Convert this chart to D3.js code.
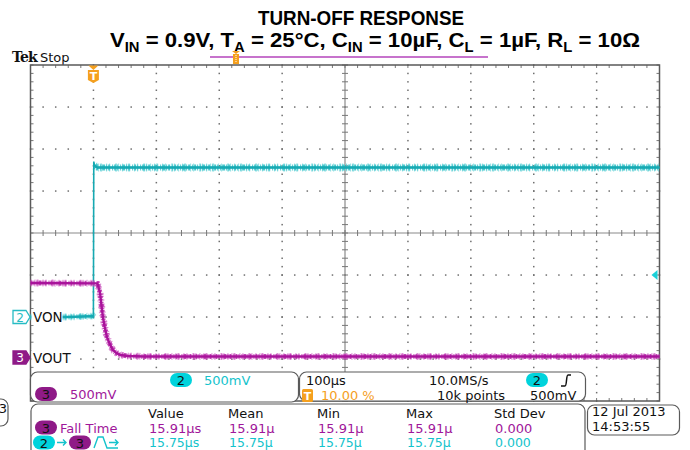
<!DOCTYPE html>
<html><head><meta charset="utf-8">
<script src="https://cdn.jsdelivr.net/npm/d3@7"></script>
<style>body{margin:0;background:#fff}svg{display:block}</style>
</head><body>
<svg id="c" width="690" height="450"></svg>
<script>
// ---------------- data ----------------
const titleLine1 = "TURN-OFF RESPONSE";
const titleLine2 = [["V",""],["IN","sub"],[" = 0.9V, T",""],["A","sub"],[" = 25°C, C",""],["IN","sub"],[" = 10µF, C",""],["L","sub"],[" = 1µF, R",""],["L","sub"],[" = 10Ω",""]];
const timeDomainUs = [-100, 900];          // 100 µs/div, trigger at 10 %
const divDomain = [-4, 4];                 // vertical divisions
const voltsPerDiv = 0.5;
const ch2GroundDiv = -2, ch3GroundDiv = -3;
// VON (channel 2)
const ch2TimeUs = [-100, -40, -1, 0, 0.6, 2, 6, 300, 900];
const ch2Volts  = [0.0, 0.0, 0.01, 0.0, 1.85, 1.80, 1.78, 1.78, 1.78];
// VOUT (channel 3)
const ch3TimeUs = [-100, 6.5, 9, 10.5, 13, 15.3, 18, 21.6, 26, 31, 37, 43, 55, 80, 900];
const ch3Volts  = [0.905, 0.90, 0.83, 0.79, 0.63, 0.49, 0.38, 0.26, 0.18, 0.107, 0.07, 0.048, 0.036, 0.03, 0.03];
const triggerLevelV = 0.5;
const measHeaders = ["Value", "Mean", "Min", "Max", "Std Dev"];
const measRow1 = ["15.91µs", "15.91µ", "15.91µ", "15.91µ", "0.000"];
const measRow2 = ["15.75µs", "15.75µ", "15.75µ", "15.75µ", "0.000"];
const chScaleText = ["500mV", "500mV"];
const timebaseText = ["100µs", "10.0MS/s", "10.00 %", "10k points", "500mV"];
const dateText = ["12 Jul  2013", "14:53:55"];

// ---------------- style ----------------
const C = {
  cyanTrace: "#16a9b2", cyanFuzz: "#49c9cf", cyanText: "#14c3cc", cyanPill: "#00d3dc",
  magTrace: "#a8139a", magFuzz: "#c445b7", magText: "#a0179a", magPill: "#8f1a87",
  orange: "#f5a01e", border: "#5a5a5a", grid: "#6f6f6f", text: "#111"
};
const UI = "'DejaVu Sans', 'Noto Sans', sans-serif";

const svg = d3.select("#c");
const x = d3.scaleLinear().domain(timeDomainUs).range([30.5, 659.5]);
const yDiv = d3.scaleLinear().domain(divDomain).range([401, 65]);
const yCh2 = d3.scaleLinear().domain([0, 1]).range([yDiv(ch2GroundDiv), yDiv(ch2GroundDiv + 1 / voltsPerDiv)]);
const yCh3 = d3.scaleLinear().domain([0, 1]).range([yDiv(ch3GroundDiv), yDiv(ch3GroundDiv + 1 / voltsPerDiv)]);

// ---------------- title ----------------
svg.append("text").attr("x", 361).attr("y", 25).attr("text-anchor", "middle")
  .attr("font-family", "'Liberation Sans', Arial, sans-serif").attr("font-weight", "bold")
  .attr("font-size", 21).attr("fill", "#000")
  .attr("textLength", 206).attr("lengthAdjust", "spacingAndGlyphs").text(titleLine1);
const t2 = svg.append("text").attr("x", 375).attr("y", 47).attr("text-anchor", "middle")
  .attr("font-family", "'Liberation Sans', Arial, sans-serif").attr("font-weight", "bold")
  .attr("font-size", 21).attr("fill", "#000")
  .attr("textLength", 530).attr("lengthAdjust", "spacingAndGlyphs");
let prevSub = false;
titleLine2.forEach(([s, k]) => {
  const sp = t2.append("tspan").text(s);
  if (k === "sub") { sp.attr("font-size", 14).attr("dy", 5); prevSub = true; }
  else if (prevSub) { sp.attr("dy", -5); prevSub = false; }
});

// ---------------- header ----------------
svg.append("text").attr("x", 12).attr("y", 62).attr("font-family", "'DejaVu Serif', serif")
  .attr("font-weight", "bold").attr("font-size", 14).attr("letter-spacing", -0.8).attr("fill", "#111").text("Tek");
svg.append("text").attr("x", 40).attr("y", 62).attr("font-family", UI)
  .attr("font-size", 13).attr("fill", "#111").text("Stop");
svg.append("line").attr("x1", 210).attr("x2", 488).attr("y1", 57).attr("y2", 57)
  .attr("stroke", "#b445bb").attr("stroke-width", 1.5);
svg.append("path").attr("d", "M232,51 L240,51 L236,54 Z").attr("fill", C.orange);
svg.append("rect").attr("x", 233).attr("y", 54).attr("width", 6).attr("height", 10).attr("fill", C.orange);
svg.append("line").attr("x1", 236).attr("x2", 236).attr("y1", 55).attr("y2", 63)
  .attr("stroke", "#fff").attr("stroke-width", 1).attr("stroke-dasharray", "1 1");

// ---------------- graticule ----------------
const gG = svg.append("g");
const [x0, x1] = x.range(), yTop = yDiv(4), yBot = yDiv(-4);
const majorT = d3.range(timeDomainUs[0], timeDomainUs[1] + 1, 100);
const minorT = d3.range(timeDomainUs[0], timeDomainUs[1] + 1, 20);
const majorD = d3.range(-4, 5, 1);
const minorD = d3.range(-4, 4.01, 0.2);
majorT.filter(t => t !== 400 && t !== timeDomainUs[0] && t !== timeDomainUs[1]).forEach(t => {
  gG.selectAll(null).data(minorD).join("rect")
    .attr("x", x(t) - 0.7).attr("y", d => yDiv(d) - 0.7).attr("width", 1.5).attr("height", 1.5).attr("fill", C.grid);
});
majorD.filter(d => d !== 0 && Math.abs(d) !== 4).forEach(d => {
  gG.selectAll(null).data(minorT).join("rect")
    .attr("x", t => x(t) - 0.7).attr("y", yDiv(d) - 0.7).attr("width", 1.5).attr("height", 1.5).attr("fill", C.grid);
});
gG.append("line").attr("x1", x0).attr("x2", x1).attr("y1", yDiv(0)).attr("y2", yDiv(0)).attr("stroke", "#8a8a8a").attr("stroke-width", 1.2);
gG.append("line").attr("x1", x(400)).attr("x2", x(400)).attr("y1", yTop).attr("y2", yBot).attr("stroke", "#8a8a8a").attr("stroke-width", 1.2);
gG.selectAll(null).data(minorT).join("line")
  .attr("x1", t => x(t)).attr("x2", t => x(t)).attr("y1", yDiv(0) - 3).attr("y2", yDiv(0) + 3).attr("stroke", "#777");
gG.selectAll(null).data(minorD).join("line")
  .attr("x1", x(400) - 3).attr("x2", x(400) + 3).attr("y1", d => yDiv(d)).attr("y2", d => yDiv(d)).attr("stroke", "#777");
gG.selectAll(null).data(minorT).join("line")
  .attr("x1", t => x(t)).attr("x2", t => x(t)).attr("y1", yTop).attr("y2", yTop + 3).attr("stroke", "#777");
gG.selectAll(null).data(minorT).join("line")
  .attr("x1", t => x(t)).attr("x2", t => x(t)).attr("y1", yBot).attr("y2", yBot - 3).attr("stroke", "#777");
gG.selectAll(null).data(minorD).join("line")
  .attr("x1", x1).attr("x2", x1 - 3).attr("y1", d => yDiv(d)).attr("y2", d => yDiv(d)).attr("stroke", "#777");
gG.selectAll(null).data(minorD).join("line")
  .attr("x1", x0).attr("x2", x0 + 3).attr("y1", d => yDiv(d)).attr("y2", d => yDiv(d)).attr("stroke", "#777");
gG.append("rect").attr("x", x0).attr("y", yTop).attr("width", x1 - x0).attr("height", yBot - yTop)
  .attr("fill", "none").attr("stroke", C.border).attr("stroke-width", 1.5);

// ---------------- traces ----------------
const trG = svg.append("g");
function pts(ts, vs, y) { return ts.map((t, i) => [x(t), y(vs[i])]); }
const line = d3.line();
function fuzzBand(p, fuzz, core, w) {
  trG.append("path").attr("d", line(p)).attr("fill", "none").attr("stroke", fuzz)
    .attr("stroke-width", w + 2).attr("stroke-dasharray", "1 3 1 1 2 4 1 2 1 5 2 1 1 3").attr("opacity", 0.6);
  trG.append("path").attr("d", line(p)).attr("fill", "none").attr("stroke", fuzz)
    .attr("stroke-width", w).attr("stroke-dasharray", "2 1 1 2 1 1 3 1 1 1 2 2 1 1");
  trG.append("path").attr("d", line(p)).attr("fill", "none").attr("stroke", core)
    .attr("stroke-width", 2.4);
}
const p2 = pts(ch2TimeUs, ch2Volts, yCh2);
const p2pre = p2.filter((_, i) => ch2TimeUs[i] <= 0);
const p2post = p2.filter((_, i) => ch2TimeUs[i] >= 2);
fuzzBand(p2pre, C.cyanFuzz, C.cyanTrace, 5);
fuzzBand(p2post, C.cyanFuzz, C.cyanTrace, 6);
trG.append("path").attr("d", line(p2)).attr("fill", "none").attr("stroke", C.cyanTrace).attr("stroke-width", 1.6);
const p3 = pts(ch3TimeUs, ch3Volts, yCh3);
fuzzBand(p3, C.magFuzz, C.magTrace, 5);

// trigger position marker
const tx = x(0);
svg.append("path").attr("d", `M${tx - 5},${yTop + 0.5} L${tx + 5},${yTop + 0.5} L${tx},${yTop + 5} Z`).attr("fill", C.orange);
svg.append("path").attr("d", `M${tx - 5.5},${yTop + 5} L${tx + 5.5},${yTop + 5} L${tx + 5.5},${yTop + 15} L${tx},${yTop + 18} L${tx - 5.5},${yTop + 15} Z`).attr("fill", C.orange);
svg.append("text").attr("x", tx).attr("y", yTop + 15).attr("text-anchor", "middle").attr("font-family", UI)
  .attr("font-weight", "bold").attr("font-size", 11).attr("fill", "#fff").text("T");
const tly = yCh2(triggerLevelV);
svg.append("path").attr("d", `M${x1 - 8},${tly} L${x1 - 2},${tly - 5} L${x1 - 2},${tly + 5} Z`).attr("fill", "#19d0d8");

// channel markers + labels
function chMarker(y, num, col, filled, label) {
  svg.append("rect").attr("x", 31.5).attr("y", y - 8).attr("width", label === "VON" ? 31 : 38).attr("height", 16).attr("fill", "#fff");
  svg.append("path").attr("d", `M13,${y - 6.5} L26,${y - 6.5} L30,${y} L26,${y + 6.5} L13,${y + 6.5} Z`)
    .attr("fill", filled ? col : "#fff").attr("stroke", col).attr("stroke-width", 1.3);
  svg.append("text").attr("x", 20).attr("y", y + 4.5).attr("text-anchor", "middle").attr("font-family", UI)
    .attr("font-size", 12).attr("fill", filled ? "#fff" : col).text(num);
  svg.append("text").attr("x", 33).attr("y", y + 5).attr("font-family", UI).attr("font-size", 13.5)
    .attr("fill", C.text).text(label);
}
chMarker(yCh2(0), "2", "#27bcc4", false, "VON");
chMarker(yCh3(0) - 1.5, "3", C.magPill, true, "VOUT");

// ---------------- panels ----------------
function panel(x, y, w, h) {
  svg.append("rect").attr("x", x).attr("y", y).attr("width", w).attr("height", h).attr("rx", 7)
    .attr("fill", "#fff").attr("stroke", C.border).attr("stroke-width", 1.2);
}
function pill(cx, cy, num, fill, tc) {
  svg.append("rect").attr("x", cx - 11).attr("y", cy - 7).attr("width", 22).attr("height", 14).attr("rx", 7).attr("fill", fill);
  svg.append("text").attr("x", cx).attr("y", cy + 5).attr("text-anchor", "middle").attr("font-family", UI)
    .attr("font-size", 13).attr("fill", tc).text(num);
}
function txt(xp, yp, s, col, anchor, fs) {
  svg.append("text").attr("x", xp).attr("y", yp + 5).attr("font-family", UI).attr("font-size", fs || 13)
    .attr("text-anchor", anchor || "start").attr("fill", col || C.text).text(s);
}
panel(-40, 399, 48, 27);
txt(7, 408, "3", C.text, "end");
panel(30.5, 372, 268, 30);
panel(299.5, 372, 286, 29);
panel(31, 404, 554, 60);
panel(587.5, 405, 92, 30);
pill(181, 380, "2", C.cyanPill, "#111");
txt(204, 380, chScaleText[0], C.cyanText);
pill(46, 394, "3", C.magPill, "#111");
txt(70, 394, chScaleText[1], C.magText);
txt(306, 380, timebaseText[0]);
txt(429, 380, timebaseText[1]);
pill(537, 380, "2", C.cyanPill, "#111");
svg.append("path").attr("d", "M561,386 L565,386 C567,386 566,375 568,375 L571,375").attr("fill", "none").attr("stroke", "#111").attr("stroke-width", 1.5);
svg.append("rect").attr("x", 302).attr("y", 389).attr("width", 11).attr("height", 13).attr("rx", 1.5).attr("fill", C.orange);
svg.append("text").attr("x", 307.5).attr("y", 400).attr("text-anchor", "middle").attr("font-family", UI)
  .attr("font-weight", "bold").attr("font-size", 11).attr("fill", "#fff").text("T");
txt(321, 395, timebaseText[2], C.orange);
txt(437, 395, timebaseText[3]);
txt(530, 395, timebaseText[4]);
const colX = [148, 228, 317, 406, 494];
measHeaders.forEach((h, i) => txt(colX[i], 413, h));
measRow1.forEach((v, i) => txt(colX[i] + 1, 427.5, v, C.magText));
measRow2.forEach((v, i) => txt(colX[i] + 1, 442, v, C.cyanText, "start", 12.5));
pill(46, 427.5, "3", C.magPill, "#111");
txt(60, 427.5, "Fall Time", C.magText);
pill(44, 442.5, "2", C.cyanPill, "#111");
svg.append("path").attr("d", "M57,442.5 L66,442.5 M63,439.5 L66,442.5 L63,445.5").attr("stroke", C.cyanText).attr("stroke-width", 1.4).attr("fill", "none");
pill(80, 442.5, "3", C.magPill, "#111");
svg.append("path").attr("d", "M94,448 L98,437 L103,437 L107,448 L118,448").attr("stroke", C.cyanText).attr("stroke-width", 1.4).attr("fill", "none");
svg.append("path").attr("d", "M109,442.5 L118,442.5 M115,439.5 L118,442.5 L115,445.5").attr("stroke", C.cyanText).attr("stroke-width", 1.4).attr("fill", "none");
txt(592, 411, dateText[0]);
txt(592, 426, dateText[1]);
</script>
</body></html>
